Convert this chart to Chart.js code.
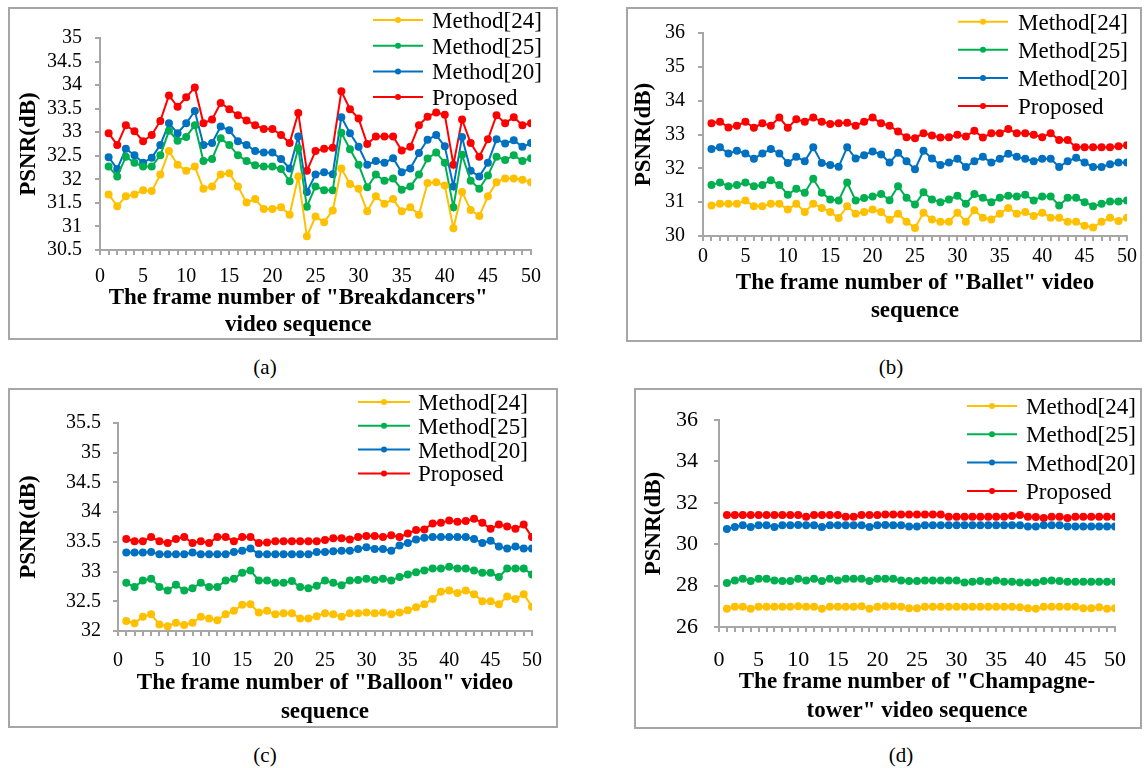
<!DOCTYPE html>
<html><head><meta charset="utf-8">
<script src="https://cdn.jsdelivr.net/npm/chart.js@4.4.1/dist/chart.umd.min.js"></script>
<style>
body{margin:0;background:#fff;width:1144px;height:768px;position:relative;overflow:hidden;font-family:"Liberation Serif",serif}
.box{position:absolute;border:2px solid #a6a6a6;box-sizing:border-box}
canvas{position:absolute}
.cap{position:absolute;font-size:21px;color:#000;transform:translate(-50%,-50%);white-space:nowrap}
</style></head><body>
<div class="box" style="left:8px;top:7px;width:550px;height:333px"></div>
<div class="box" style="left:626px;top:7px;width:516px;height:335px"></div>
<div class="box" style="left:8px;top:388px;width:550px;height:340px"></div>
<div class="box" style="left:634px;top:388px;width:508px;height:341px"></div>
<canvas id="ca" width="548" height="331" style="left:9px;top:8px"></canvas>
<canvas id="cb" width="514" height="333" style="left:627px;top:8px"></canvas>
<canvas id="cc" width="548" height="338" style="left:9px;top:389px"></canvas>
<canvas id="cd" width="506" height="339" style="left:635px;top:389px"></canvas>
<div class="cap" style="left:265px;top:367px">(a)</div>
<div class="cap" style="left:891px;top:367px">(b)</div>
<div class="cap" style="left:265px;top:755px">(c)</div>
<div class="cap" style="left:901px;top:755px">(d)</div>
<script>
// ---- data ----
const frames = [1,2,3,4,5,6,7,8,9,10,11,12,13,14,15,16,17,18,19,20,21,22,23,24,25,26,27,28,29,30,31,32,33,34,35,36,37,38,39,40,41,42,43,44,45,46,47,48,49,50];
const seriesNames = ['Method[24]','Method[25]','Method[20]','Proposed'];
const xTickLabels = [0,5,10,15,20,25,30,35,40,45,50];

const a_m24 = [31.68,31.43,31.64,31.68,31.77,31.75,32.10,32.60,32.31,32.18,32.27,31.80,31.85,32.10,32.13,31.85,31.51,31.58,31.37,31.37,31.41,31.25,32.06,30.79,31.21,31.09,31.34,32.23,31.90,31.80,31.32,31.64,31.48,31.58,31.32,31.41,31.25,31.92,31.94,31.87,30.96,31.73,31.35,31.22,31.64,31.94,32.02,32.02,31.99,31.94];
const a_m25 = [32.27,32.06,32.48,32.35,32.27,32.27,32.51,33.03,32.82,32.90,33.15,32.39,32.43,32.87,32.73,32.51,32.39,32.30,32.27,32.27,32.22,31.96,32.66,31.42,31.85,31.77,31.77,32.99,32.64,32.31,31.83,32.10,31.97,32.02,31.78,31.85,32.10,32.44,32.57,32.35,31.41,32.52,31.97,31.80,32.08,32.48,32.41,32.51,32.39,32.45];
const a_m20 = [32.47,32.22,32.65,32.51,32.35,32.46,32.73,33.19,32.98,33.19,33.45,32.73,32.77,33.12,33.04,32.81,32.73,32.60,32.57,32.57,32.43,32.23,32.91,31.73,32.10,32.15,32.11,33.32,32.98,32.69,32.31,32.39,32.35,32.45,32.15,32.23,32.56,32.84,32.94,32.70,31.85,32.90,32.18,32.06,32.35,32.85,32.76,32.83,32.69,32.77];
const a_prop = [32.98,32.73,33.15,33.02,32.81,32.94,33.24,33.78,33.54,33.74,33.95,33.19,33.27,33.62,33.49,33.36,33.25,33.15,33.07,33.07,32.94,32.77,33.41,32.18,32.60,32.65,32.67,33.87,33.49,33.29,32.75,32.91,32.91,32.91,32.61,32.69,33.15,33.33,33.42,33.37,32.31,33.27,32.77,32.48,32.85,33.36,33.19,33.32,33.15,33.19];

const b_m24 = [30.90,30.95,30.95,30.95,31.05,30.88,30.88,30.95,30.95,30.78,30.95,30.71,30.95,30.83,30.71,30.53,30.88,30.66,30.71,30.78,30.71,30.48,30.66,30.42,30.24,30.69,30.49,30.42,30.42,30.69,30.42,30.76,30.54,30.49,30.66,30.83,30.66,30.71,30.59,30.69,30.54,30.54,30.42,30.42,30.30,30.25,30.42,30.54,30.44,30.54];
const b_m25 = [31.51,31.58,31.47,31.51,31.58,31.47,31.51,31.65,31.51,31.22,31.40,31.28,31.69,31.28,31.08,31.05,31.58,31.05,31.12,31.17,31.24,31.06,31.47,31.13,30.93,31.29,31.08,31.00,31.08,31.19,30.95,31.24,31.13,31.00,31.13,31.19,31.17,31.22,31.05,31.17,31.17,30.90,31.13,31.13,31.00,30.88,30.95,31.02,31.02,31.05];
const b_m20 = [32.57,32.62,32.44,32.52,32.44,32.28,32.44,32.57,32.44,32.16,32.34,32.21,32.62,32.16,32.10,32.05,32.62,32.29,32.39,32.50,32.41,32.17,32.46,32.21,31.97,32.52,32.29,32.10,32.17,32.28,32.04,32.21,32.34,32.17,32.28,32.43,32.34,32.28,32.21,32.28,32.28,32.04,32.21,32.31,32.17,32.04,32.04,32.12,32.17,32.17];
const b_prop = [33.33,33.38,33.21,33.26,33.38,33.20,33.33,33.26,33.50,33.20,33.45,33.38,33.50,33.38,33.31,33.33,33.35,33.26,33.38,33.50,33.33,33.26,33.09,32.92,32.89,33.04,32.97,32.91,32.92,32.99,32.94,33.11,32.91,33.04,33.04,33.16,33.04,33.04,32.99,32.92,33.04,32.84,32.84,32.62,32.62,32.62,32.62,32.62,32.65,32.68];

const c_m24 = [32.17,32.13,32.24,32.28,32.11,32.08,32.14,32.10,32.14,32.24,32.21,32.18,32.28,32.34,32.44,32.45,32.31,32.34,32.28,32.30,32.30,32.21,32.21,32.25,32.30,32.28,32.24,32.30,32.30,32.31,32.30,32.31,32.28,32.31,32.35,32.40,32.45,32.54,32.66,32.68,32.64,32.68,32.62,32.50,32.50,32.45,32.58,32.54,32.62,32.41];
const c_m25 = [32.81,32.74,32.85,32.88,32.74,32.68,32.78,32.68,32.72,32.81,32.74,32.74,32.85,32.88,32.98,33.02,32.85,32.85,32.81,32.81,32.84,32.74,32.72,32.76,32.85,32.81,32.77,32.85,32.86,32.88,32.86,32.88,32.85,32.91,32.95,32.99,33.02,33.05,33.05,33.08,33.05,33.05,33.02,32.98,32.98,32.91,33.05,33.05,33.05,32.95];
const c_m20 = [33.32,33.32,33.32,33.33,33.29,33.29,33.29,33.29,33.32,33.29,33.29,33.29,33.29,33.33,33.35,33.39,33.29,33.29,33.29,33.29,33.29,33.29,33.29,33.33,33.33,33.34,33.35,33.35,33.38,33.41,33.38,33.38,33.35,33.44,33.48,33.54,33.57,33.58,33.58,33.58,33.58,33.58,33.55,33.48,33.52,33.42,33.39,33.42,33.39,33.39];
const c_prop = [33.55,33.51,33.51,33.58,33.51,33.48,33.55,33.58,33.48,33.51,33.48,33.58,33.58,33.51,33.58,33.58,33.48,33.49,33.51,33.51,33.51,33.51,33.51,33.51,33.53,33.56,33.56,33.54,33.58,33.60,33.60,33.58,33.61,33.58,33.64,33.70,33.71,33.81,33.82,33.86,33.84,33.85,33.89,33.82,33.72,33.79,33.76,33.72,33.79,33.58];

const d_m24 = [26.88,26.98,26.98,26.88,26.98,26.98,26.98,26.98,26.98,27.00,26.98,26.98,26.88,26.98,26.98,26.98,26.98,27.00,26.88,26.98,27.00,27.00,26.98,26.90,26.90,26.98,26.98,26.98,26.98,26.98,26.98,26.98,26.98,26.98,26.98,26.98,26.98,26.95,26.90,26.88,26.98,26.98,26.98,26.98,26.98,26.90,26.90,26.95,26.88,26.90];
const d_m25 = [28.13,28.25,28.33,28.22,28.33,28.33,28.25,28.22,28.22,28.33,28.25,28.33,28.22,28.33,28.25,28.33,28.33,28.33,28.22,28.33,28.33,28.33,28.25,28.22,28.22,28.25,28.25,28.25,28.25,28.25,28.15,28.18,28.22,28.18,28.25,28.18,28.18,28.15,28.15,28.15,28.22,28.25,28.22,28.18,28.18,28.18,28.18,28.18,28.18,28.18];
const d_m20 = [30.73,30.83,30.91,30.83,30.91,30.91,30.83,30.91,30.91,30.93,30.91,30.91,30.83,30.91,30.91,30.91,30.91,30.91,30.83,30.91,30.93,30.91,30.91,30.85,30.85,30.91,30.91,30.91,30.91,30.91,30.91,30.91,30.91,30.91,30.91,30.91,30.91,30.91,30.85,30.85,30.91,30.91,30.91,30.85,30.85,30.85,30.85,30.85,30.85,30.85];
const d_prop = [31.41,31.41,31.41,31.41,31.41,31.41,31.41,31.41,31.41,31.41,31.33,31.41,31.41,31.41,31.41,31.33,31.33,31.41,31.41,31.41,31.44,31.44,31.44,31.44,31.44,31.44,31.44,31.44,31.33,31.33,31.33,31.33,31.33,31.33,31.33,31.33,31.36,31.41,31.33,31.31,31.27,31.33,31.33,31.27,31.33,31.33,31.33,31.33,31.33,31.33];

const colors = ['#FFC000','#00B050','#0070C0','#FF0000'];
const FONT = '"Liberation Serif", "Times New Roman", serif';
const AXIS = '#a6a6a6';

const legendPlugin = {
  id: 'sideLegend',
  afterDraw(chart, args, o) {
    const ctx = chart.ctx;
    ctx.save();
    ctx.font = o.size + 'px ' + FONT;
    ctx.textBaseline = 'middle';
    ctx.textAlign = 'left';
    chart.data.datasets.forEach((ds, i) => {
      const y = o.y0 + i * o.dy;
      ctx.strokeStyle = ds.borderColor;
      ctx.lineWidth = 2;
      ctx.beginPath(); ctx.moveTo(o.x0, y); ctx.lineTo(o.x1, y); ctx.stroke();
      ctx.fillStyle = ds.borderColor;
      ctx.beginPath(); ctx.arc((o.x0 + o.x1) / 2, y, 3, 0, Math.PI * 2); ctx.fill();
      ctx.fillStyle = '#000';
      ctx.fillText(ds.label, o.tx, y + 2);
    });
    ctx.restore();
  }
};

function panel(id, series, p) {
  const datasets = series.map((arr, i) => ({
    label: seriesNames[i], data: arr,
    borderColor: colors[i], backgroundColor: colors[i],
    borderWidth: 2, pointRadius: 3, pointHoverRadius: 3, tension: 0
  }));
  new Chart(document.getElementById(id), {
    type: 'line',
    data: { labels: frames, datasets },
    plugins: [legendPlugin],
    options: {
      responsive: false, animation: false,
      layout: { padding: { left: 0, top: p.padTop, right: p.padRight, bottom: 0 } },
      plugins: {
        legend: { display: false }, tooltip: { enabled: false },
        sideLegend: p.legend
      },
      scales: {
        x: {
          type: 'linear', min: 0, max: 50,
          ticks: { stepSize: 1, maxTicksLimit: 100, autoSkip: false, maxRotation: 0, padding: p.xPad, color: '#000',
            font: { family: FONT, size: p.tick },
            callback: v => xTickLabels.includes(v) ? String(v) : '' },
          grid: { display: true, drawOnChartArea: false, drawTicks: true, tickLength: 5, color: AXIS, lineWidth: 2 },
          border: { display: true, color: AXIS, width: 2 },
          title: { display: true, text: p.xTitle, color: '#000',
            font: { family: FONT, size: 23, weight: 'bold', lineHeight: p.tlh + 'px' },
            padding: { top: 0, bottom: p.tpb } },
          afterFit: s => { s.height = p.xH; }
        },
        y: {
          min: p.ymin, max: p.ymax,
          ticks: { stepSize: p.step, autoSkip: false, padding: p.yPad, color: '#000', font: { family: FONT, size: p.tick },
            callback: v => String(Math.round(v * 10) / 10) },
          grid: { display: true, drawOnChartArea: false, drawTicks: true, tickLength: 5, color: AXIS, lineWidth: 2 },
          border: { display: true, color: AXIS, width: 2 },
          title: { display: true, text: 'PSNR(dB)', color: '#000',
            font: { family: FONT, size: 23, weight: 'bold', lineHeight: '27px' },
            padding: { top: p.ytp, bottom: 0 } },
          afterFit: s => { s.width = p.yW; }
        }
      }
    }
  });
}

panel('ca', [a_m24, a_m25, a_m20, a_prop], {
  padTop: 30, padRight: 26, yW: 91, xH: 89, ymin: 30.5, ymax: 35, step: 0.5, tick: 20,
  xPad: 10, yPad: 13, ytp: 7, tlh: 27, tpb: 0,
  xTitle: ['The frame number of "Breakdancers"      ', 'video sequence      '],
  legend: { x0: 364, x1: 414, tx: 423, y0: 12, dy: 25.7, size: 23 }
});
panel('cb', [b_m24, b_m25, b_m20, b_prop], {
  padTop: 22, padRight: 14, yW: 76, xH: 105, ymin: 30, ymax: 36, step: 1, tick: 20,
  xPad: 4, yPad: 13, ytp: 4, tlh: 28, tpb: 16,
  xTitle: ['The frame number of "Ballet" video', 'sequence'],
  legend: { x0: 331, x1: 381, tx: 391, y0: 13.7, dy: 28.1, size: 23 }
});
panel('cc', [c_m24, c_m25, c_m20, c_prop], {
  padTop: 34, padRight: 25, yW: 109, xH: 96, ymin: 32, ymax: 35.5, step: 0.5, tick: 20,
  xPad: 13, yPad: 12, ytp: 7, tlh: 29, tpb: 0,
  xTitle: ['The frame number of "Balloon" video', 'sequence'],
  legend: { x0: 349, x1: 401, tx: 409, y0: 13, dy: 23.8, size: 23 }
});
panel('cd', [d_m24, d_m25, d_m20, d_prop], {
  padTop: 31, padRight: 14, yW: 84, xH: 101, ymin: 26, ymax: 36, step: 2, tick: 22,
  xPad: 15, yPad: 16, ytp: 6, tlh: 29, tpb: 2,
  xTitle: ['The frame number of "Champagne-', 'tower" video sequence'],
  legend: { x0: 332, x1: 382, tx: 391, y0: 17, dy: 28.3, size: 23 }
});
</script>
</body></html>
